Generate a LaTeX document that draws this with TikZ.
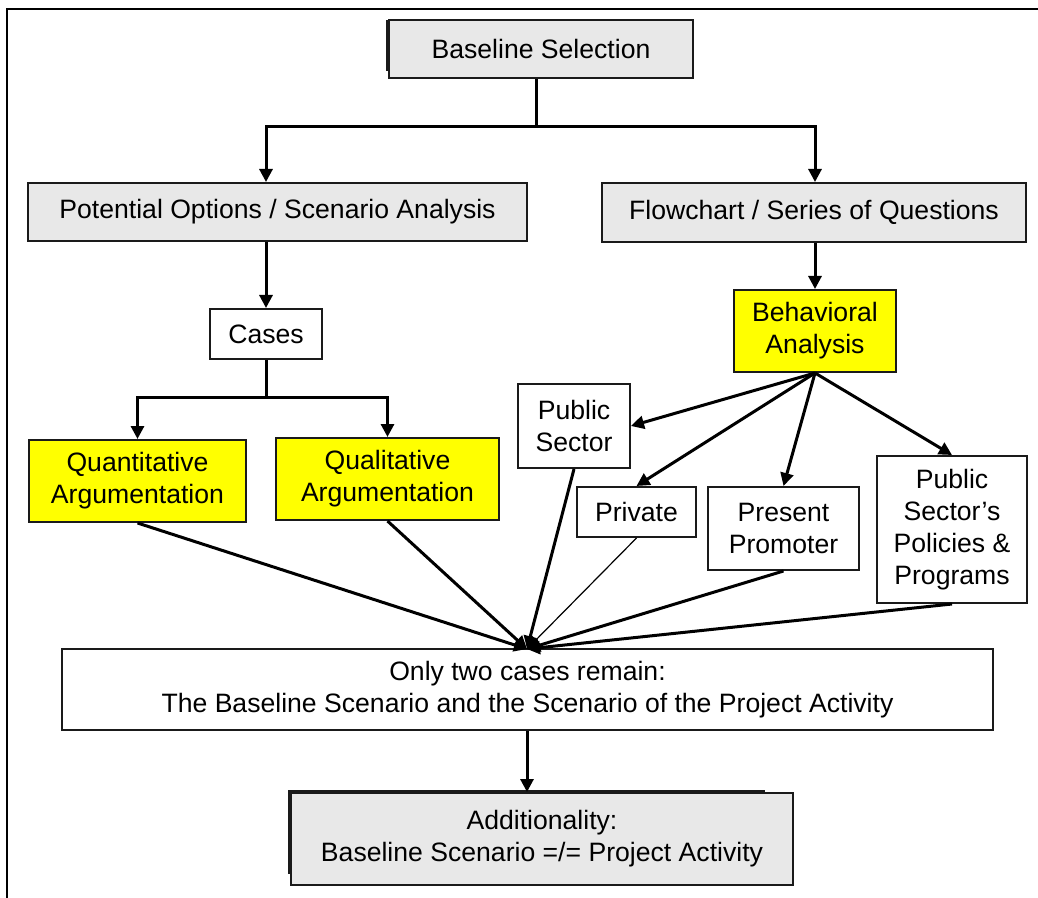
\documentclass[tikz,border=0pt]{standalone}
\usepackage{fontspec}
\setmainfont{Liberation Sans}
\usetikzlibrary{arrows.meta}
\definecolor{boxgrey}{HTML}{E8E8E8}
\definecolor{boxyellow}{HTML}{FFFF00}
\definecolor{linegrey}{HTML}{1A1A1A}
\tikzset{
  every node/.style={font=\fontsize{13.3}{16}\selectfont, align=center, inner sep=0pt},
  box/.style={draw=linegrey, line width=1pt, rectangle},
  greybox/.style={box, fill=boxgrey},
  yellowbox/.style={box, fill=boxyellow},
  whitebox/.style={box, fill=white},
  conn/.style={line width=1.5pt, draw=black},
  arr/.style={conn, -{Triangle[length=6.5pt,width=6.5pt]}},
  thinarr/.style={line width=0.6pt, draw=black, -{Triangle[length=6.5pt,width=6.5pt]}},
  backrect/.style={draw=linegrey, line width=1pt},
  frame/.style={draw=black, line width=1pt}
}
\begin{document}
\begin{tikzpicture}[x=0.5pt, y=-0.5pt]
\useasboundingbox (0,0) rectangle (1038,898);
% outer frame (top and left edges visible)
\draw[frame] (7,898) -- (7,9) -- (1038,9);

% back outlines (shadow-like)
\draw[backrect] (387,21) rectangle (680,70);
\draw[backrect] (289,791) rectangle (764,873);

% nodes
\node[greybox, minimum width=152pt, minimum height=29pt] (base) at (541,49) {Baseline Selection};
\node[greybox, minimum width=249.5pt, minimum height=29pt] (pot) at (277.5,212) {Potential Options / Scenario Analysis};
\node[greybox, minimum width=212pt, minimum height=29.5pt] (flow) at (814,212.5) {Flowchart / Series of Questions};
\node[whitebox, minimum width=56pt, minimum height=25pt] (cases) at (266,334) {Cases};
\node[yellowbox, minimum width=108.5pt, minimum height=41pt] (quant) at (137.5,481) {Quantitative\\Argumentation};
\node[yellowbox, minimum width=111.5pt, minimum height=41pt] (qual) at (387.5,479) {Qualitative\\Argumentation};
\node[yellowbox, minimum width=81pt, minimum height=41pt] (behav) at (815,331) {Behavioral\\Analysis};
\node[whitebox, minimum width=56pt, minimum height=42pt] (pubs) at (574,426) {Public\\Sector};
\node[whitebox, minimum width=59.5pt, minimum height=25pt] (priv) at (636.5,512) {Private};
\node[whitebox, minimum width=75.5pt, minimum height=41.5pt] (prom) at (783.5,528.5) {Present\\Promoter};
\node[whitebox, minimum width=75pt, minimum height=73.5pt] (pspp) at (952,529.5) {Public\\Sector’s\\Policies \&\\Programs};
\node[whitebox, minimum width=465.5pt, minimum height=40.5pt] (two) at (527.5,689.5) {Only two cases remain:\\The Baseline Scenario and the Scenario of the Project Activity};
\node[greybox, minimum width=251pt, minimum height=46pt] (add) at (542,839) {Additionality:\\Baseline Scenario =/= Project Activity};

% coordinates
\coordinate (j1) at (536,127);
\coordinate (jL) at (266,127);
\coordinate (jR) at (815,127);
\coordinate (j2) at (266,398);
\coordinate (conv) at (527,649);

% top split
\draw[conn] (base.south -| j1) -- (j1);
\draw[arr] (j1) -| (pot.north -| jL);
\draw[arr] (j1) -| (flow.north -| jR);

% left branch
\draw[arr] (pot.south -| cases) -- (cases.north);
\draw[conn] (cases.south) -- (j2);
\draw[arr] (j2) -| (quant.north);
\draw[arr] (j2) -| (qual.north);

% right branch
\draw[arr] (flow.south -| behav) -- (behav.north);
\draw[arr] (behav.south) -- (pubs.east);
\draw[arr] (behav.south) -- (priv.north);
\draw[arr] (behav.south) -- (prom.north);
\draw[arr] (behav.south) -- (pspp.north);

% convergence
\draw[arr] (quant.south) -- (conv);
\draw[arr] (qual.south) -- (conv);
\draw[arr] (pubs.south) -- (conv);
\draw[thinarr] (priv.south) -- (conv);
\draw[arr] (prom.south) -- (conv);
\draw[arr] (pspp.south) -- (conv);

% final
\draw[arr] (two.south -| conv) -- (add.north -| conv);
\end{tikzpicture}
\end{document}
